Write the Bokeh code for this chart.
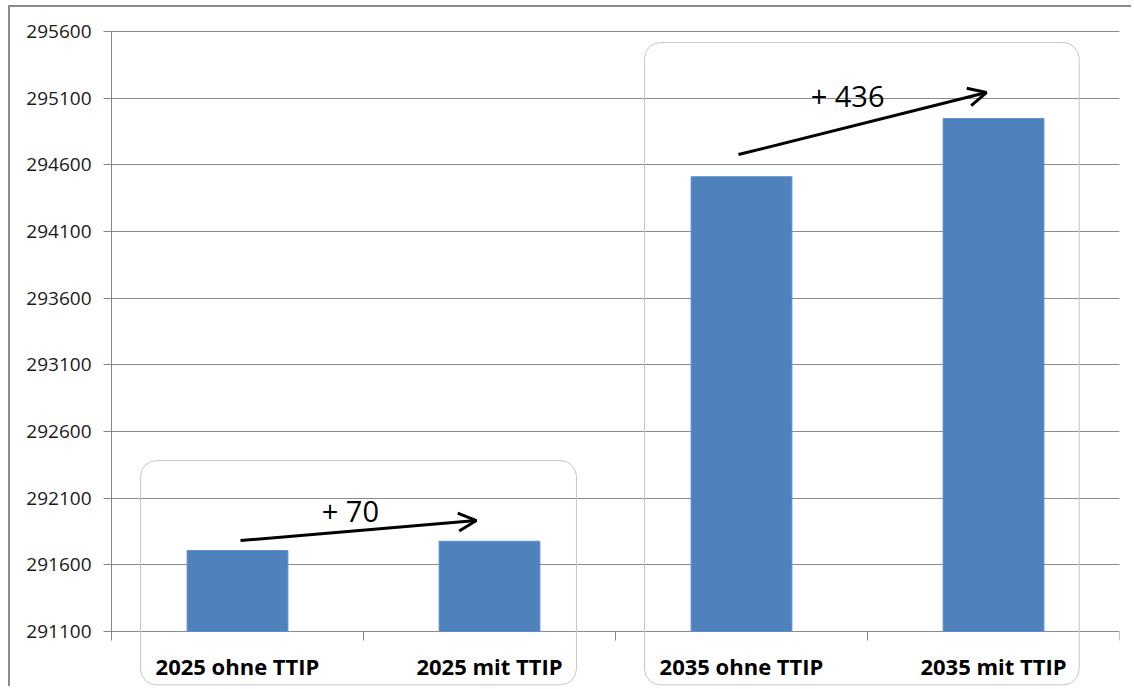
from bokeh.plotting import figure
from bokeh.models import FactorRange, Range1d, FixedTicker, BasicTickFormatter, Arrow, OpenHead
from bokeh.core.properties import value
from bokeh.embed import file_html
from bokeh.resources import INLINE

# ---- data ----
categories = ["2025 ohne TTIP", "2025 mit TTIP", "2035 ohne TTIP", "2035 mit TTIP"]
values = [291707, 291777, 294511, 294947]
y_ticks = [291100, 291600, 292100, 292600, 293100, 293600, 294100, 294600, 295100, 295600]
diff_labels = ["+ 70", "+ 436"]

# ---- figure ----
W, H = 1123, 681
p = figure(width=W, height=H,
           x_range=FactorRange(factors=categories),
           y_range=Range1d(290672.5, 295780),
           x_axis_location=None,
           output_backend="svg", toolbar_location=None,
           min_border_left=101, min_border_right=14,
           min_border_top=0, min_border_bottom=0)
p.styles = {"margin-left": "8px", "margin-top": "5px",
            "border-left": "2px solid #8a8a8a", "border-top": "2px solid #8a8a8a"}
p.outline_line_color = None
p.background_fill_color = "white"
p.border_fill_color = "white"

ax = p.yaxis[0]
ax.ticker = FixedTicker(ticks=y_ticks)
ax.formatter = BasicTickFormatter(use_scientific=False)
ax.bounds = (y_ticks[0] - 68, y_ticks[-1])
ax.axis_line_color = "#868686"
ax.major_tick_line_color = "#868686"
ax.major_tick_out = 8
ax.major_tick_in = 0
ax.minor_tick_line_color = None
ax.major_label_text_font = "Open Sans"
ax.major_label_text_font_size = "19px"
ax.major_label_text_color = "#1a1a1a"
ax.major_label_standoff = 12

p.xgrid.visible = False
p.ygrid.ticker = FixedTicker(ticks=y_ticks)
p.ygrid.grid_line_color = "#8c8c8c"

# rounded group boxes (decoration)
p.quad(left=[0.115, 2.115], right=[1.845, 3.84],
       top=[292382, 295517], bottom=[290700, 290700],
       fill_color=None, line_color="#c6c6c6", line_width=1, border_radius=16)

# x tick marks at category boundaries
xt = list(range(len(categories) + 1))
p.segment(x0=xt, x1=xt, y0=[y_ticks[0] - 68] * len(xt), y1=[y_ticks[0]] * len(xt),
          line_color="#868686", line_width=1)

# bars
p.vbar(x=categories, top=values, bottom=y_ticks[0], width=0.4,
       fill_color="#4F81BD", line_color="#5f8fca", line_width=1)

# category labels
p.text(x=categories, y=[290845] * len(categories), text=categories,
       text_font=value("Open Sans"), text_font_style="bold", text_font_size="22px",
       text_align="center", text_baseline="middle", text_color="black")

# arrows
for (xs, ys, xe, ye) in [(0.512, 291782, 1.448, 291932), (2.488, 294677, 3.472, 295142)]:
    p.add_layout(Arrow(end=OpenHead(size=18, line_width=3, line_color="black"),
                       x_start=xs, y_start=ys, x_end=xe, y_end=ye,
                       line_width=3, line_color="black"))

p.text(x=[0.948, 2.921], y=[292007, 295120], text=diff_labels,
       text_font=value("Open Sans"), text_font_size="29px",
       text_align="center", text_baseline="middle", text_color="black")

open("out.html", "w").write(file_html(p, INLINE))
